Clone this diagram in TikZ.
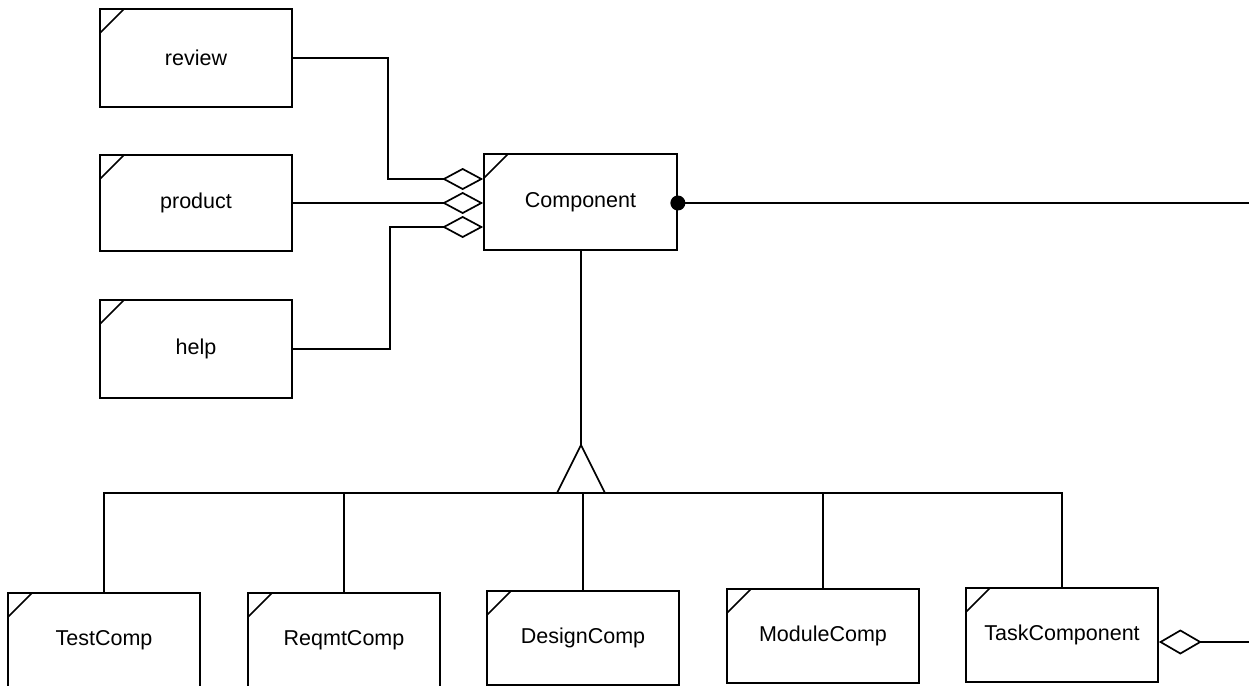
\documentclass[tikz,border=0pt]{standalone}
\usepackage{fontspec}
\setmainfont{Liberation Sans}
\usetikzlibrary{arrows.meta}
\tikzset{
  lw/.style={line width=1.7pt},
  classbox/.style={draw, lw, rectangle, inner sep=0pt, minimum width=192pt,
    font=\fontsize{21.5}{26}\selectfont,
    path picture={\draw[lw] ([yshift=-24pt]path picture bounding box.north west)
       -- ([xshift=24pt]path picture bounding box.north west);}},
  agg/.style={lw, {Diamond[open,length=41pt,width=22pt,line width=1.7pt]}-},
  link/.style={lw},
  dotend/.style={circle, fill=black, minimum size=15pt, inner sep=0pt},
}
\begin{document}
\begin{tikzpicture}[x=1pt,y=-1pt]
\clip (0,0) rectangle (1249,685);
\fill[white] (0,0) rectangle (1249,685);
% classes
\node[classbox, minimum height=98pt] (review) at (196,58) {review};
\node[classbox, minimum height=96pt] (product) at (196,203) {product};
\node[classbox, minimum height=98pt] (help) at (196,349) {help};
\node[classbox, minimum width=193pt, minimum height=96pt] (comp) at (580.5,202) {Component};
\node[classbox, minimum height=94pt] (test) at (104,640) {TestComp};
\node[classbox, minimum height=94pt] (reqmt) at (344,640) {ReqmtComp};
\node[classbox, minimum height=94pt] (design) at (583,638) {DesignComp};
\node[classbox, minimum height=94pt] (module) at (823,636) {ModuleComp};
\node[classbox, minimum height=94pt] (task) at (1062,635) {TaskComponent};
% aggregations into Component
\coordinate (j1) at (388,179);
\coordinate (j3) at (390,227);
\draw[agg] ([yshift=23pt]comp.west) -- (j1) |- (review.east);
\draw[agg] (comp.west |- product.east) -- (product.east);
\draw[agg] ([yshift=-25pt]comp.west) -- (j3) |- (help.east);
% association to the right
\node[dotend] (dot) at (comp.east |- 0,203) {};
\coordinate (rend1) at (1249,203);
\draw[link] (dot.center) -- (rend1);
% generalization
\coordinate (apex) at (581,445);
\coordinate (bar) at (581,493);
\draw[link] (apex |- comp.south) -- (apex);
\draw[link, line join=miter] (apex) -- ([xshift=-24pt]bar) -- ([xshift=24pt]bar) -- cycle;
\draw[link] (test.north) |- (bar) -| (task.north);
\draw[link] (reqmt.north) -- (reqmt.north |- bar);
\draw[link] (design.north) -- (design.north |- bar);
\draw[link] (module.north) -- (module.north |- bar);
% TaskComponent aggregation
\coordinate (rend2) at (1249,642);
\draw[{Diamond[open,length=43pt,width=25pt,line width=1.7pt]}-, lw] ([yshift=-7pt]task.east) -- (rend2);
\end{tikzpicture}
\end{document}
